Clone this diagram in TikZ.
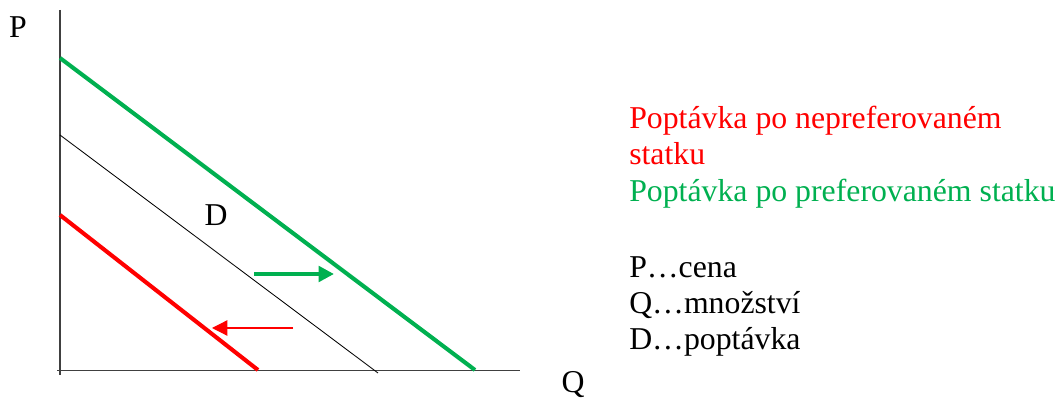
\documentclass[tikz,border=0pt]{standalone}
\usepackage{fontspec}
\setmainfont{Liberation Serif}
\usepackage{xcolor}
\usetikzlibrary{arrows.meta,positioning}
\definecolor{prefgreen}{HTML}{00B050}
\definecolor{nonpref}{HTML}{FF0000}
\definecolor{axisgray}{HTML}{404040}

\begin{document}
\begin{tikzpicture}[
  x=0.025cm, y=-0.025cm,
  font=\fontsize{22.6}{25.6}\selectfont,
  axis/.style={draw=axisgray, line width=1.1pt},
  demand/.style={line width=0.6pt, draw=black},
  shifted/.style={line width=2.9pt},
  lbl/.style={inner sep=0pt},
  txt/.style={inner sep=0pt, anchor=base west, align=left},
  shiftarr/.style={-{Triangle[length=11pt, width=11pt]}},
]
\useasboundingbox (0,0) rectangle (1061,398);
% axes
\draw[axis] (60,10) -- (60,375);
\draw[axis] (57,370.5) -- (520,370.5);
\node[lbl] (p) at (18,27) {P};
\node[lbl] (q) at (573,385) {Q};
% demand curves
\draw[shifted, draw=prefgreen] (60,58) -- (475,370);
\draw[demand] (60,135) -- (378,373);
\draw[shifted, draw=nonpref] (60,215) -- (258,370);
\node[lbl] (d) at (216,215) {D};
% shift arrows
\coordinate (gs) at (254,274);
\coordinate (ge) at (334,274);
\draw[shiftarr, line width=2.9pt, draw=prefgreen, fill=prefgreen] (gs) -- (ge);
\coordinate (rs) at (293,328);
\coordinate (re) at (212,328);
\draw[shiftarr, line width=0.9pt, draw=nonpref, fill=nonpref] (rs) -- (re);
% legend (base = last line)
\node[txt, text=nonpref] (redtxt) at (629,165) {Poptávka po nepreferovaném\\statku};
\node[txt, text=prefgreen] (greentxt) at (629,202) {Poptávka po preferovaném statku};
\node[txt] (keytxt) at (629,350) {P…cena\\Q…množství\\D…poptávka};
\end{tikzpicture}
\end{document}
